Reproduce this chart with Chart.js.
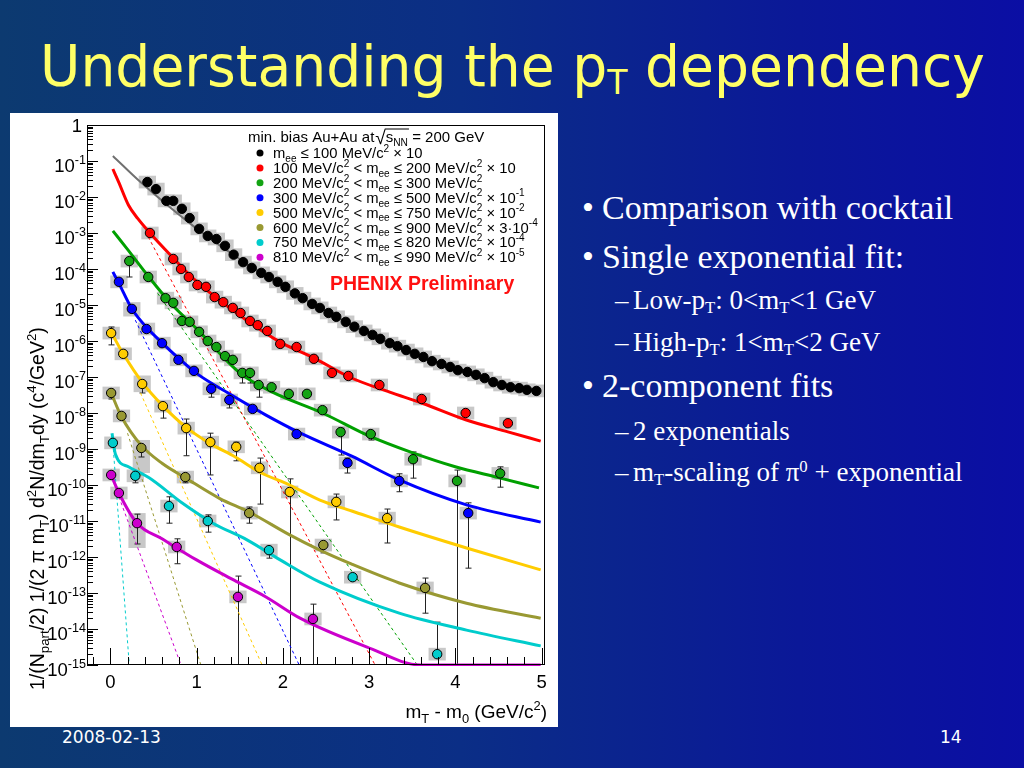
<!DOCTYPE html>
<html>
<head>
<meta charset="utf-8">
<title>Understanding the pT dependency</title>
<script src="https://cdn.jsdelivr.net/npm/chart.js@4.4.1/dist/chart.umd.min.js"></script>
<style>
  html, body { margin: 0; padding: 0; }
  body { width: 1024px; height: 768px; overflow: hidden; position: relative;
    background: linear-gradient(to right, #0c3a70 0%, #0b2e86 45%, #0b1898 78%, #0b0ea4 100%); }
  #title { position: absolute; left: 40px; top: 31px; height: 70px; line-height: 70px;
    font-family: "DejaVu Sans"; font-size: 57px; color: #ffff66; white-space: nowrap; transform-origin: 0 0; }
  #title sub { font-size: 0.6em; vertical-align: -0.22em; line-height: 0; }
  #panel { position: absolute; left: 10px; top: 113px; width: 548px; height: 614px; background: #fff; }
  .t { position: absolute; color: #fff; font-family: "Liberation Serif"; white-space: nowrap; }
  .big { font-size: 34px; height: 40px; line-height: 40px; }
  .small { font-size: 27px; height: 32px; line-height: 32px; }
  .t sub { font-size: 0.62em; vertical-align: -0.25em; line-height: 0; }
  .t sup { font-size: 0.62em; vertical-align: 0.55em; line-height: 0; }
  .foot { position: absolute; top: 727px; height: 20px; line-height: 20px; color: #fff;
    font-family: "DejaVu Sans"; font-size: 17px; }
</style>
</head>
<body>
<div id="title">Understanding the p<sub>T</sub> dependency</div>
<div id="panel"><canvas id="chart"></canvas></div>

<div class="t big" style="left:582px;top:188px">&bull;</div>
<div class="t big" style="left:602px;top:188px">Comparison with cocktail</div>
<div class="t big" style="left:582px;top:237px">&bull;</div>
<div class="t big" style="left:602px;top:237px">Single exponential fit:</div>
<div class="t small" style="left:615px;top:284px">&ndash;</div>
<div class="t small" style="left:633px;top:284px">Low-p<sub>T</sub>: 0&lt;m<sub>T</sub>&lt;1 GeV</div>
<div class="t small" style="left:615px;top:326px">&ndash;</div>
<div class="t small" style="left:633px;top:326px">High-p<sub>T</sub>: 1&lt;m<sub>T</sub>&lt;2 GeV</div>
<div class="t big" style="left:582px;top:366px">&bull;</div>
<div class="t big" style="left:602px;top:366px">2-component fits</div>
<div class="t small" style="left:615px;top:415px">&ndash;</div>
<div class="t small" style="left:633px;top:415px">2 exponentials</div>
<div class="t small" style="left:615px;top:456px">&ndash;</div>
<div class="t small" style="left:633px;top:456px">m<sub>T</sub>-scaling of &pi;<sup>0</sup> + exponential</div>

<div class="foot" style="left:62px">2008-02-13</div>
<div class="foot" style="left:940px">14</div>

<script>
// tick labels
var xTickLabels = ['0', '1', '2', '3', '4', '5'];
var yTickLabels = ['1', '10^{-1}', '10^{-2}', '10^{-3}', '10^{-4}', '10^{-5}', '10^{-6}', '10^{-7}',
  '10^{-8}', '10^{-9}', '10^{-10}', '10^{-11}', '10^{-12}', '10^{-13}', '10^{-14}', '10^{-15}'];
var yTitle = '1/(N_{part}/2) 1/(2 \u03c0 m_{T}) d^{2}N/dm_{T}dy (c^{4}/GeV^{2})';
var xTitle = 'm_{T} - m_{0} (GeV/c^{2})';

var legendLabels = [
  'm_{ee} \u2264 100 MeV/c^{2} \u00d7 10',
  '100 MeV/c^{2} < m_{ee} \u2264 200 MeV/c^{2} \u00d7 10',
  '200 MeV/c^{2} < m_{ee} \u2264 300 MeV/c^{2}',
  '300 MeV/c^{2} < m_{ee} \u2264 500 MeV/c^{2} \u00d7 10^{-1}',
  '500 MeV/c^{2} < m_{ee} \u2264 750 MeV/c^{2} \u00d7 10^{-2}',
  '600 MeV/c^{2} < m_{ee} \u2264 900 MeV/c^{2} \u00d7 3\u00b710^{-4}',
  '750 MeV/c^{2} < m_{ee} \u2264 820 MeV/c^{2} \u00d7 10^{-4}',
  '810 MeV/c^{2} < m_{ee} \u2264 990 MeV/c^{2} \u00d7 10^{-5}'
];

// data points: [mT-m0, yield, statLow, statHigh, sysLow, sysHigh]
var blackPoints = [
  [0.43, 2.6e-2], [0.53, 1.66e-2], [0.65, 7.8e-3], [0.73, 7.8e-3], [0.83, 4.7e-3], [0.92, 2.6e-3],
  [1.03, 1.3e-3], [1.13, 8.3e-4], [1.23, 6.8e-4], [1.33, 4.4e-4], [1.43, 2.5e-4], [1.54, 1.55e-4],
  [1.64, 1.07e-4], [1.75, 7.8e-5], [1.84, 6.0e-5], [1.94, 4.4e-5], [2.03, 3.2e-5], [2.14, 2.1e-5],
  [2.23, 1.55e-5], [2.34, 1.07e-5], [2.43, 8.3e-6], [2.53, 6.0e-6], [2.62, 4.7e-6], [2.73, 3.4e-6],
  [2.83, 2.5e-6], [2.94, 1.9e-6], [3.04, 1.48e-6], [3.13, 1.15e-6], [3.24, 8.7e-7], [3.33, 7.2e-7],
  [3.43, 5.6e-7], [3.53, 4.4e-7], [3.63, 3.6e-7], [3.73, 2.75e-7], [3.84, 2.3e-7], [3.94, 1.9e-7],
  [4.03, 1.55e-7], [4.14, 1.38e-7], [4.24, 1.15e-7], [4.34, 9.3e-8], [4.44, 7.2e-8], [4.54, 6.0e-8],
  [4.64, 5.2e-8], [4.74, 4.9e-8], [4.83, 4.4e-8], [4.94, 4.1e-8]
];
var redPoints = [
  [0.46, 1.0e-3], [0.73, 1.9e-4], [0.82, 1.0e-4], [0.91, 6.0e-5], [1.01, 3.6e-5], [1.11, 3.2e-5],
  [1.21, 1.66e-5], [1.31, 1.2e-5], [1.42, 8.3e-6], [1.51, 6.0e-6], [1.62, 3.6e-6], [1.71, 2.75e-6],
  [1.82, 1.9e-6], [1.97, 8.3e-7], [2.16, 6.8e-7], [2.36, 3.2e-7], [2.57, 1.3e-7], [2.76, 1.07e-7],
  [3.12, 6.0e-8], [3.61, 2.45e-8], [4.12, 1.0e-8], [4.61, 5.2e-9]
];
var greenPoints = [
  [0.22, 1.66e-4, 6.0e-5, null], [0.44, 6.0e-5], [0.64, 1.55e-5], [0.73, 1.15e-5], [0.83, 3.6e-6],
  [0.92, 3.4e-6], [1.03, 1.8e-6], [1.13, 1.0e-6], [1.23, 6.8e-7], [1.33, 3.8e-7], [1.42, 3.0e-7],
  [1.53, 1.3e-7, 6.8e-8, null], [1.62, 1.3e-7, 6.8e-8, null], [1.72, 6.0e-8, 2.75e-8, null],
  [1.87, 5.2e-8], [2.07, 3.4e-8], [2.28, 3.4e-8], [2.46, 1.2e-8],
  [2.67, 2.95e-9, 6.8e-10, 3.8e-9], [3.02, 2.6e-9, 1.78e-9, null], [3.51, 5.2e-10, 1.55e-10, 8.3e-10],
  [4.02, 1.3e-10, 1e-16, 2.6e-10], [4.52, 2.1e-10, 8.7e-11, 3.2e-10]
];
var bluePoints = [
  [0.10, 4.4e-5], [0.25, 7.8e-6, null, null, 4.8e-6, 1.2e-5], [0.42, 2.15e-6], [0.60, 8.7e-7],
  [0.79, 3.0e-7], [0.97, 1.48e-7], [1.17, 4.7e-8, 2.75e-8, null], [1.38, 2.3e-8, 1.38e-8, null],
  [1.65, 1.3e-8], [2.16, 2.6e-9], [2.75, 4.1e-10, 2.15e-10, 5.6e-10], [3.35, 1.3e-10, 6.5e-11, 2.05e-10],
  [4.15, 1.66e-11, 4.9e-13, 3.2e-11]
];
var yellowPoints = [
  [0.01, 1.66e-6, 7.8e-7, 2.45e-6], [0.15, 4.4e-7], [0.37, 6.4e-8, 3.6e-8, null, 3.8e-8, 1.1e-7],
  [0.61, 1.55e-8, 7.2e-9, null], [0.88, 3.8e-9, 6.5e-10, 6.8e-9], [1.16, 1.55e-9, 1.9e-10, 2.75e-9],
  [1.46, 1.15e-9, 4.7e-10, 1.55e-9], [1.73, 3.0e-10, 2.95e-11, 5.6e-10], [2.08, 6.4e-11, 1e-16, 1.48e-10],
  [2.62, 3.4e-11, 1.07e-11, 5.6e-11], [3.21, 1.2e-11, 2.45e-12, 2.15e-11]
];
var olivePoints = [
  [0.01, 3.6e-8, 2.45e-8, null], [0.13, 8.3e-9], [0.36, 1.07e-9, 6.0e-10, null, 2.15e-10, 1.78e-9],
  [0.87, 1.66e-10, 1.15e-10, null], [1.61, 1.66e-11, 8.7e-12, 2.45e-11], [2.47, 2.15e-12, 1.3e-12, null],
  [3.65, 1.38e-13, 2.75e-14, 2.6e-13]
];
var cyanPoints = [
  [0.03, 1.48e-9], [0.29, 1.8e-10, 1.15e-10, null], [0.68, 2.6e-11, 8.7e-12, 4.7e-11],
  [1.13, 1.0e-11, 4.9e-12, 1.48e-11], [1.84, 1.55e-12, 9.3e-13, null], [2.81, 2.75e-13],
  [3.79, 2.0e-15, null, 1.55e-14]
];
var purplePoints = [
  [0.01, 1.9e-10], [0.10, 6.0e-11], [0.31, 8.7e-12, 2.3e-12, 1.55e-11, 1.78e-12, 1.66e-11],
  [0.77, 1.9e-12, 6.5e-13, 3.2e-12], [1.48, 7.8e-14, 1e-16, 2.95e-13], [2.35, 1.9e-14, 1e-16, 4.9e-14]
];

// fit curves (solid)
var blackFit = [[0.03, 0.138], [0.35, 2.6e-2], [0.96, 1.58e-3], [1.5, 1.9e-4], [2.0, 3.3e-5], [2.5, 6.8e-6],
  [3.0, 1.58e-6], [3.5, 4.7e-7], [4.0, 1.62e-7], [4.5, 6.6e-8], [4.95, 4.1e-8]];
var redFit = [[0.03, 6.0e-2], [0.1, 2.5e-2], [0.21, 6.0e-3], [0.32, 2.5e-3], [0.46, 1.0e-3], [0.7, 2.4e-4],
  [1.0, 4.5e-5], [1.5, 5.2e-6], [1.97, 9.3e-7], [2.36, 3.4e-7], [2.77, 1.0e-7], [3.24, 3.8e-8],
  [3.61, 1.9e-8], [4.12, 6.5e-9], [4.61, 3.0e-9], [4.99, 1.66e-9]];
var greenFit = [[0.03, 1.15e-3], [0.2, 3.5e-4], [0.44, 6.3e-5], [0.7, 1.12e-5], [1.0, 2.2e-6], [1.5, 1.3e-7],
  [1.88, 3.8e-8], [2.46, 1.0e-8], [3.0, 2.3e-9], [3.5, 7.9e-10], [4.0, 3.2e-10], [4.5, 1.6e-10], [4.97, 8.3e-11]];
var blueFit = [[0.03, 8.3e-5], [0.1, 4.0e-5], [0.25, 7.9e-6], [0.42, 2.4e-6], [0.6, 8.9e-7], [0.8, 3.2e-7],
  [1.0, 1.26e-7], [1.4, 3.2e-8], [1.8, 8.9e-9], [2.2, 2.8e-9], [2.8, 6.3e-10], [3.35, 1.38e-10],
  [4.13, 2.8e-11], [4.99, 9.3e-12]];
var yellowFit = [[0.02, 1.58e-6], [0.15, 4.4e-7], [0.37, 7.1e-8], [0.61, 1.58e-8], [0.88, 4.0e-9], [1.16, 1.41e-9],
  [1.45, 6.0e-10], [1.73, 2.3e-10], [2.08, 1.0e-10], [2.43, 3.8e-11], [2.8, 1.9e-11], [3.35, 6.8e-12],
  [4.13, 1.78e-12], [4.99, 4.4e-13]];
var oliveFit = [[0.01, 3.6e-8], [0.13, 7.9e-9], [0.36, 1.26e-9], [0.6, 4.0e-10], [0.87, 1.58e-10], [1.27, 4.2e-11],
  [1.61, 1.78e-11], [2.08, 4.1e-12], [2.43, 1.55e-12], [2.8, 6.3e-13], [3.35, 1.9e-13], [4.13, 5.2e-14], [4.99, 2.0e-14]];
var cyanFit = [[0.02, 2.75e-9], [0.06, 7.1e-10], [0.21, 3.2e-10], [0.45, 1.58e-10], [0.83, 3.2e-11], [1.19, 8.7e-12],
  [1.59, 2.95e-12], [1.97, 8.3e-13], [2.43, 2.0e-13], [3.35, 2.75e-14], [4.13, 9.3e-15], [4.99, 3.4e-15]];
var purpleFit = [[0.01, 1.9e-10], [0.1, 6.0e-11], [0.31, 8.7e-12], [0.6, 3.2e-12], [1.0, 8.3e-13], [1.4, 2.5e-13],
  [1.8, 7.9e-14], [2.2, 2.0e-14], [2.97, 3.2e-15], [3.6, 1.0e-15], [4.99, 1.0e-15]];

// steep exponentials (dashed)
var redSteep = [[0.44, 7.8e-4], [3.07, 1e-15]];
var greenSteep = [[0.55, 2.1e-5], [3.56, 1e-15]];
var blueSteep = [[0.29, 3.8e-6], [2.19, 1e-15]];
var yellowSteep = [[0.35, 3.6e-8], [1.76, 1e-15]];
var oliveSteep = [[0.2, 2.75e-9], [1.05, 1e-15]];
var cyanSteep = [[0.03, 1.48e-9], [0.22, 1e-15]];
var purpleSteep = [[0.1, 4.7e-11], [0.82, 1e-15]];

var series = [
  { pts: blackPoints, fit: blackFit, steep: null, color: '#000000', line: '#707070', lw: 2 },
  { pts: redPoints, fit: redFit, steep: redSteep, color: '#ff0000', line: '#ff0000', lw: 3 },
  { pts: greenPoints, fit: greenFit, steep: greenSteep, color: '#13a313', line: '#00a000', lw: 3 },
  { pts: bluePoints, fit: blueFit, steep: blueSteep, color: '#0000ff', line: '#0000ff', lw: 3 },
  { pts: yellowPoints, fit: yellowFit, steep: yellowSteep, color: '#ffcc00', line: '#ffcc00', lw: 3 },
  { pts: olivePoints, fit: oliveFit, steep: oliveSteep, color: '#999933', line: '#999933', lw: 3 },
  { pts: cyanPoints, fit: cyanFit, steep: cyanSteep, color: '#00cccc', line: '#00cccc', lw: 3 },
  { pts: purplePoints, fit: purpleFit, steep: purpleSteep, color: '#cc00cc', line: '#cc00cc', lw: 3 }
];

var FONT = '"Liberation Sans", Arial, sans-serif';

// split "a^{b}c_{d}" into normal / superscript / subscript pieces
function richParts(s) {
  var out = [], buf = '', i = 0;
  while (i < s.length) {
    var c = s[i];
    if ((c === '^' || c === '_') && s[i + 1] === '{') {
      if (buf) { out.push({ t: buf, m: 0 }); buf = ''; }
      var j = s.indexOf('}', i);
      out.push({ t: s.slice(i + 2, j), m: c === '^' ? 1 : -1 });
      i = j + 1;
    } else { buf += c; i++; }
  }
  if (buf) out.push({ t: buf, m: 0 });
  return out;
}

function drawRich(ctx, s, x, y, size, align, weight) {
  var parts = richParts(s);
  var small = size * 0.68;
  var pre = weight ? weight + ' ' : '';
  var w = 0;
  parts.forEach(function (p) {
    ctx.font = pre + (p.m ? small : size) + 'px ' + FONT;
    p.w = ctx.measureText(p.t).width;
    w += p.w;
  });
  if (align === 'right') x -= w;
  if (align === 'center') x -= w / 2;
  ctx.textAlign = 'left';
  ctx.textBaseline = 'alphabetic';
  parts.forEach(function (p) {
    ctx.font = pre + (p.m ? small : size) + 'px ' + FONT;
    var dy = p.m === 1 ? -size * 0.42 : (p.m === -1 ? size * 0.26 : 0);
    ctx.fillText(p.t, x, y + dy);
    x += p.w;
  });
  return w;
}

function line(ctx, x1, y1, x2, y2) {
  ctx.beginPath(); ctx.moveTo(x1, y1); ctx.lineTo(x2, y2); ctx.stroke();
}

var rootStyle = {
  id: 'rootStyle',
  beforeDatasetsDraw: function (chart) {
    var ctx = chart.ctx, a = chart.chartArea, xs = chart.scales.x, ys = chart.scales.y;
    ctx.save();
    ctx.beginPath(); ctx.rect(a.left, a.top, a.right - a.left, a.bottom - a.top); ctx.clip();
    // systematic boxes
    ctx.fillStyle = '#c8c8c8';
    series.forEach(function (s) {
      s.pts.forEach(function (p) {
        var lo = p[4] != null ? p[4] : p[1] / 1.5;
        var hi = p[5] != null ? p[5] : p[1] * 1.5;
        var x1 = xs.getPixelForValue(p[0] - 0.1), x2 = xs.getPixelForValue(p[0] + 0.1);
        var y1 = ys.getPixelForValue(hi), y2 = ys.getPixelForValue(lo);
        ctx.fillRect(x1, y1, x2 - x1, y2 - y1);
      });
    });
    // statistical error bars
    ctx.strokeStyle = '#222'; ctx.lineWidth = 1;
    series.forEach(function (s) {
      s.pts.forEach(function (p) {
        if (p[2] == null && p[3] == null) return;
        var lo = p[2] == null ? p[1] : p[2], hi = p[3] == null ? p[1] : p[3];
        var px = Math.round(xs.getPixelForValue(p[0])) + 0.5;
        var yl = ys.getPixelForValue(lo), yh = ys.getPixelForValue(hi);
        line(ctx, px, yl, px, yh);
        if (p[2] != null && lo >= 1e-15) line(ctx, px - 3, yl, px + 3, yl);
        if (p[3] != null) line(ctx, px - 3, yh, px + 3, yh);
      });
    });
    ctx.restore();
  },
  afterDatasetsDraw: function (chart) {
    var ctx = chart.ctx, a = chart.chartArea, xs = chart.scales.x, ys = chart.scales.y;
    ctx.save();
    ctx.strokeStyle = '#000'; ctx.lineWidth = 1;
    ctx.strokeRect(Math.round(a.left) + 0.5, Math.round(a.top) + 0.5,
      Math.round(a.right - a.left) - 1, Math.round(a.bottom - a.top) - 1);
    // x ticks: major 1, minor 0.2
    for (var i = -1; i <= 25; i++) {
      var px = Math.round(xs.getPixelForValue(i * 0.2)) + 0.5;
      var len = (i % 5 === 0) ? 17 : 8;
      line(ctx, px, a.bottom, px, a.bottom - len);
    }
    // y ticks: decades and 2..9
    for (var e = -15; e <= 0; e++) {
      var d = Math.pow(10, e);
      var py = Math.round(ys.getPixelForValue(d)) + 0.5;
      line(ctx, a.left, py, a.left + 11, py);
      if (e < 0) {
        for (var m = 2; m <= 9; m++) {
          var pm = Math.round(ys.getPixelForValue(m * d)) + 0.5;
          line(ctx, a.left, pm, a.left + 6, pm);
        }
      }
    }
    ctx.restore();
  },
  afterDraw: function (chart) {
    var ctx = chart.ctx, a = chart.chartArea, xs = chart.scales.x, ys = chart.scales.y;
    ctx.save();
    ctx.fillStyle = '#000';
    // tick labels
    xTickLabels.forEach(function (t, k) {
      drawRich(ctx, t, xs.getPixelForValue(k), a.bottom + 23, 18.5, 'center');
    });
    yTickLabels.forEach(function (t, k) {
      var py = ys.getPixelForValue(Math.pow(10, -k));
      if (k === 0) drawRich(ctx, t, 72, py + 7, 18.5, 'right');
      else drawRich(ctx, t, 76, py + 11, 18.5, 'right');
    });
    // axis titles
    drawRich(ctx, xTitle, 537, 605, 19, 'right');
    ctx.save();
    ctx.translate(34, 577);
    ctx.rotate(-Math.PI / 2);
    drawRich(ctx, yTitle, 0, 0, 19.5, 'left');
    ctx.restore();

    // legend
    var lx = 238, ly = 29;
    var w = drawRich(ctx, 'min. bias Au+Au at', lx, ly, 15);
    lx += w + 1;
    ctx.font = '19px ' + FONT;
    ctx.fillText('\u221a', lx, ly + 2);
    lx += ctx.measureText('\u221a').width;
    w = drawRich(ctx, 's_{NN}', lx, ly, 15);
    ctx.strokeStyle = '#000'; ctx.lineWidth = 1;
    line(ctx, lx - 1, ly - 13, lx + w + 1, ly - 13);
    drawRich(ctx, ' = 200 GeV', lx + w, ly, 15);
    legendLabels.forEach(function (t, k) {
      var by = 45 + k * 14.9;
      ctx.fillStyle = series[k].color;
      ctx.beginPath(); ctx.arc(250, by - 5, 3.5, 0, Math.PI * 2); ctx.fill();
      ctx.fillStyle = '#000';
      drawRich(ctx, t, 263, by, 14.8);
    });
    ctx.fillStyle = '#ff1010';
    drawRich(ctx, 'PHENIX Preliminary', 320, 177, 19.5, 'left', 'bold');
    ctx.restore();
  }
};

var datasets = [];
series.forEach(function (s) {
  datasets.push({
    data: s.pts.map(function (p) { return { x: p[0], y: p[1] }; }),
    showLine: false, pointRadius: 4.7, pointBackgroundColor: s.color,
    pointBorderColor: '#000', pointBorderWidth: 1, order: 0
  });
  datasets.push({
    data: s.fit.map(function (p) { return { x: p[0], y: p[1] }; }),
    showLine: true, pointRadius: 0, borderColor: s.line, borderWidth: s.lw,
    cubicInterpolationMode: 'monotone', order: 1,
    clip: { left: 0, top: 0, right: 0, bottom: 1 }
  });
  if (s.steep) {
    datasets.push({
      data: s.steep.map(function (p) { return { x: p[0], y: p[1] }; }),
      showLine: true, pointRadius: 0, borderColor: s.line, borderWidth: 1,
      borderDash: [3, 3], order: 2
    });
  }
});

new Chart(document.getElementById('chart'), {
  type: 'scatter',
  data: { datasets: datasets },
  options: {
    responsive: true,
    maintainAspectRatio: false,
    animation: false,
    events: [],
    layout: { padding: { top: 12, right: 13, left: 0, bottom: 0 } },
    plugins: { legend: { display: false }, tooltip: { enabled: false } },
    scales: {
      x: {
        type: 'linear', min: -0.27, max: 5.04,
        grid: { display: false }, border: { display: false }, ticks: { display: false },
        afterFit: function (sc) { sc.height = 62; }
      },
      y: {
        type: 'logarithmic', min: 1e-15, max: 1,
        grid: { display: false }, border: { display: false }, ticks: { display: false },
        afterFit: function (sc) { sc.width = 77; }
      }
    }
  },
  plugins: [rootStyle]
});

// stretch the title to the slide width used in the original
var title = document.getElementById('title');
title.style.transform = 'scaleX(' + (945 / title.getBoundingClientRect().width) + ')';
</script>
</body>
</html>
